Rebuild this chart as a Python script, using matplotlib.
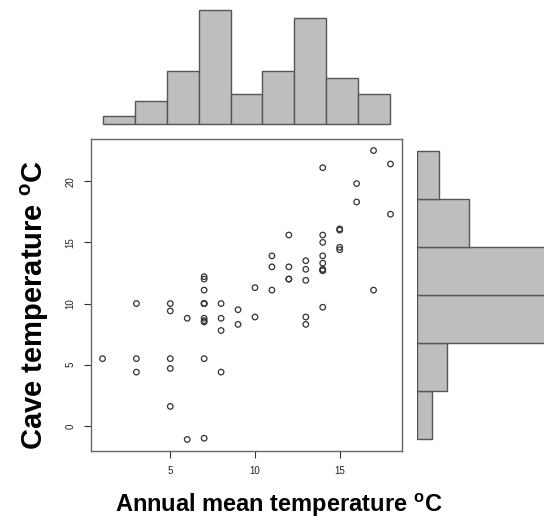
import numpy as np
import matplotlib
matplotlib.use("Agg")
import matplotlib.pyplot as plt

plt.rcParams['font.family'] = ['Liberation Sans', 'DejaVu Sans']
plt.rcParams['mathtext.fontset'] = 'custom'
plt.rcParams['mathtext.rm'] = 'Liberation Sans'
plt.rcParams['mathtext.bf'] = 'Liberation Sans:bold'

# annual mean temperature (x) and cave temperature (y)
annual_temp = [1,
               3, 3, 3,
               5, 5, 5, 5, 5,
               6, 6,
               7, 7, 7, 7, 7, 7, 7, 7, 7, 7, 7,
               8, 8, 8, 8,
               9, 9,
               10, 10,
               11, 11, 11,
               12, 12, 12, 12,
               13, 13, 13, 13, 13,
               14, 14, 14, 14, 14, 14, 14, 14, 14,
               15, 15, 15, 15,
               16, 16,
               17, 17,
               18, 18]
cave_temp = [5.5,
             10.0, 5.5, 4.4,
             10.0, 9.4, 5.5, 4.7, 1.6,
             8.8, -1.1,
             12.2, 12.0, 11.1, 10.0, 10.0, 10.0, 8.8, 8.6, 8.5, 5.5, -1.0,
             10.0, 8.8, 7.8, 4.4,
             9.5, 8.3,
             11.3, 8.9,
             13.9, 13.0, 11.1,
             15.6, 13.0, 12.0, 12.0,
             13.5, 12.8, 11.9, 8.9, 8.3,
             21.1, 15.6, 15.0, 13.9, 13.3, 12.8, 12.7, 12.7, 9.7,
             16.1, 16.0, 14.6, 14.4,
             19.8, 18.3,
             22.5, 11.1,
             21.4, 17.3]

# marginal histogram counts
top_counts = [1, 3, 7, 15, 4, 7, 14, 6, 4]
top_edges = np.linspace(1, 18, 10)
right_counts = [2, 4, 22, 23, 7, 3]
right_edges = np.linspace(-1.1, 22.5, 7)

W, H = 544, 524
fig = plt.figure(figsize=(W / 100, H / 100), dpi=100)

def px_axes(l, t, r, b):
    return fig.add_axes([l / W, 1 - b / H, (r - l) / W, (b - t) / H])

edge = '#555555'
fill = '#bebebe'

# scatter
ax = px_axes(91, 139, 402, 451)
ax.scatter(annual_temp, cave_temp, s=16, facecolors='none',
           edgecolors='#333333', linewidths=0.9)
xmin, xmax = min(annual_temp), max(annual_temp)
ymin, ymax = min(cave_temp), max(cave_temp)
ax.set_xlim(xmin - 0.04 * (xmax - xmin), xmax + 0.04 * (xmax - xmin))
ax.set_ylim(ymin - 0.04 * (ymax - ymin), ymax + 0.04 * (ymax - ymin))
ax.set_xticks([5, 10, 15])
ax.set_yticks([0, 5, 10, 15, 20])
ax.tick_params(axis='both', length=5, width=0.8, color='#333333',
               labelsize=7, labelcolor='#222222')
ax.tick_params(axis='x', pad=6)
ax.tick_params(axis='y', pad=6)
for lab in ax.get_yticklabels():
    lab.set_rotation(90)
    lab.set_va('center')
for sp in ax.spines.values():
    sp.set_color('#666666')
    sp.set_linewidth(1.0)

# top histogram
axt = px_axes(91, 10, 402, 124)
axt.bar(top_edges[:-1], top_counts, width=np.diff(top_edges), align='edge',
        color=fill, edgecolor=edge, linewidth=1.0, clip_on=False)
axt.set_xlim(ax.get_xlim())
axt.set_ylim(0, max(top_counts))
axt.axis('off')

# right histogram
axr = px_axes(417, 139, 544, 451)
axr.barh(right_edges[:-1], right_counts, height=np.diff(right_edges),
         align='edge', color=fill, edgecolor=edge, linewidth=1.0)
axr.set_ylim(ax.get_ylim())
axr.set_xlim(0, 17.2)
axr.axis('off')

fig.text(279 / W, 1 - 505 / H, r'Annual mean temperature $^{\mathbf{o}}$C',
         fontsize=17, fontweight='bold', ha='center', va='center')
fig.text(35 / W, 1 - 305 / H, r'Cave temperature $^{\mathbf{o}}$C',
         fontsize=21, fontweight='bold', ha='center', va='center',
         rotation=90)

fig.savefig('out.png', dpi=100)
